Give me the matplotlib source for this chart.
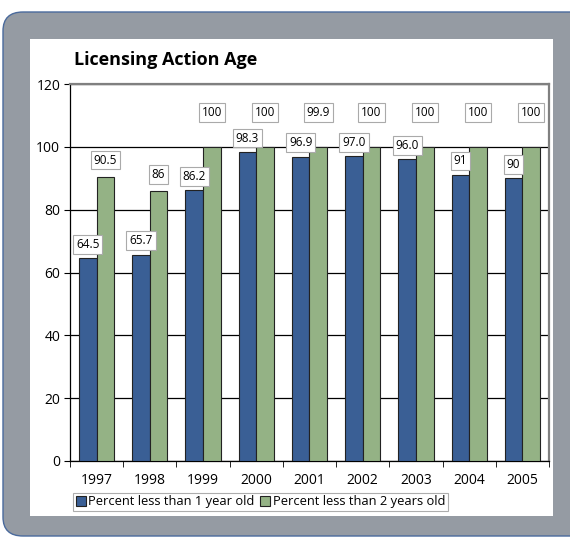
import numpy as np
import matplotlib.pyplot as plt
from matplotlib.patches import FancyBboxPatch, Rectangle

# Data
years = ['1997', '1998', '1999', '2000', '2001', '2002', '2003', '2004', '2005']
one_year = [64.5, 65.7, 86.2, 98.3, 96.9, 97.0, 96.0, 91, 90]
two_year = [90.5, 86, 100, 100, 99.9, 100, 100, 100, 100]
one_labels = ['64.5', '65.7', '86.2', '98.3', '96.9', '97.0', '96.0', '91', '90']
two_labels = ['90.5', '86', '100', '100', '99.9', '100', '100', '100', '100']

plt.rcParams['font.family'] = ['Open Sans', 'DejaVu Sans']

W, H = 570, 540
fig = plt.figure(figsize=(W / 100, H / 100), dpi=100)
fig.patch.set_facecolor('white')

def fx(px):
    return px / W

def fy(py):
    return 1 - py / H

# grey rounded frame
frame = FancyBboxPatch((fx(3), fy(536)), fx(590) - fx(3), fy(12) - fy(536),
                       boxstyle='round,pad=0,rounding_size=0.035',
                       transform=fig.transFigure, facecolor='#959ba3',
                       edgecolor='#4a6a9c', linewidth=1.0, zorder=-2)
fig.patches.append(frame)
panel = Rectangle((fx(30), fy(516)), fx(553) - fx(30), fy(39) - fy(516),
                  transform=fig.transFigure, facecolor='white',
                  edgecolor='none', zorder=-1)
fig.patches.append(panel)

ax = fig.add_axes([fx(70), fy(461), fx(549) - fx(70), fy(84) - fy(461)])
ax.set_facecolor('white')

x = np.arange(len(years))
w = 0.33
b1 = ax.bar(x - w / 2, one_year, w, color='#3a5f95', edgecolor='#222222',
            linewidth=0.8, label='Percent less than 1 year old', zorder=3)
b2 = ax.bar(x + w / 2, two_year, w, color='#94b285', edgecolor='#222222',
            linewidth=0.8, label='Percent less than 2 years old', zorder=3)

box = dict(boxstyle='square,pad=0.25', facecolor='white', edgecolor='#aaaaaa',
           linewidth=0.8)
for i in range(len(years)):
    ax.text(x[i] - w / 2, one_year[i] + 4.5, one_labels[i], ha='center',
            va='center', fontsize=8.5, bbox=box, zorder=5)
    ly = 110.8 if two_year[i] >= 99.9 else two_year[i] + 5.3
    ax.text(x[i] + w / 2, ly, two_labels[i], ha='center', va='center',
            fontsize=8.5, bbox=box, zorder=5)

ax.set_ylim(0, 120)
ax.set_xlim(-0.5, len(years) - 0.5)
ax.set_yticks(np.arange(0, 121, 20))
ax.yaxis.grid(True, color='black', linewidth=0.9)
ax.set_axisbelow(True)
ax.set_xticks(x)
ax.set_xticklabels(years, fontsize=10)
ax.set_xticks(np.arange(-0.5, len(years)), minor=True)
ax.tick_params(axis='x', which='major', length=0, pad=9)
ax.tick_params(axis='x', which='minor', length=4, color='black')
ax.tick_params(axis='y', labelsize=10, length=4, pad=3)
for s in ['left', 'bottom']:
    ax.spines[s].set_color('black')
    ax.spines[s].set_linewidth(0.9)
for s in ['top', 'right']:
    ax.spines[s].set_color('#808080')
    ax.spines[s].set_linewidth(1.6)

fig.text(fx(74), fy(60), 'Licensing Action Age', fontsize=13,
         fontweight='bold', ha='left', va='center')

leg = fig.legend(handles=[b1, b2], loc='center left', ncol=2,
                 bbox_to_anchor=(fx(73), fy(502)), fontsize=9.3,
                 frameon=True, fancybox=False, edgecolor='#999999',
                 handlelength=0.8, handleheight=0.8, handletextpad=0.2,
                 columnspacing=0.4, borderpad=0.2, borderaxespad=0)
leg.get_frame().set_linewidth(0.8)

fig.savefig('out.png', dpi=100)
